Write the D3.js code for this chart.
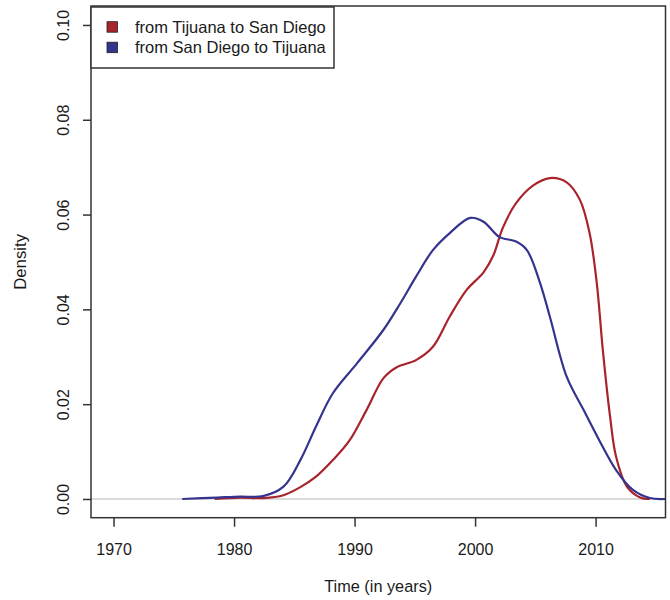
<!DOCTYPE html>
<html>
<head>
<meta charset="utf-8">
<script src="https://cdn.jsdelivr.net/npm/d3@7"></script>
<style>
  html, body { margin: 0; padding: 0; background: #fff; }
  svg { display: block; }
  text { font-family: "Liberation Sans", Arial, sans-serif; fill: #1a1a1a; }
</style>
</head>
<body>
<svg id="chart" width="670" height="600"></svg>
<script>
// ---- data ----
const seriesNames = ["from Tijuana to San Diego", "from San Diego to Tijuana"];
const seriesColors = ["#a8242c", "#34348f"];

// from Tijuana to San Diego : [year, density]
const tijuanaToSD = [
  [1978.4, 0.0], [1980.5, 0.0003], [1982.4, 0.0002], [1984.1, 0.0008], [1985.5, 0.0025],
  [1986.8, 0.0047], [1988.2, 0.0082], [1989.6, 0.0124], [1991.0, 0.0188],
  [1992.4, 0.0255], [1993.5, 0.0278], [1995.1, 0.0293], [1996.5, 0.0321],
  [1997.9, 0.0385], [1999.3, 0.0441], [2000.7, 0.0478], [2001.5, 0.0513],
  [2002.3, 0.0572], [2003.4, 0.0624], [2004.8, 0.0661], [2006.2, 0.0677],
  [2007.6, 0.0668], [2008.7, 0.0631], [2009.5, 0.0561], [2010.1, 0.0455],
  [2010.6, 0.0314], [2011.2, 0.0174], [2011.7, 0.0089], [2012.6, 0.0026],
  [2013.7, 0.0003], [2014.5, 0.0]
];

// from San Diego to Tijuana : [year, density]
const sdToTijuana = [
  [1975.7, 0.0], [1978.6, 0.0003], [1980.5, 0.0005], [1982.4, 0.0006], [1984.1, 0.0026],
  [1985.5, 0.0082], [1986.8, 0.0153], [1988.2, 0.0223], [1990.2, 0.0286],
  [1992.4, 0.0357], [1993.8, 0.0413], [1995.1, 0.0469], [1996.5, 0.0525],
  [1997.9, 0.0561], [1999.6, 0.0593], [2000.7, 0.0585], [2002.0, 0.0553],
  [2003.4, 0.0543], [2004.3, 0.0525], [2005.4, 0.0455], [2006.2, 0.0385],
  [2007.6, 0.0258], [2009.0, 0.0188], [2010.3, 0.0124], [2011.7, 0.0061],
  [2013.1, 0.0019], [2014.5, 0.0002], [2015.8, 0.0]
];

const xTicks = [1970, 1980, 1990, 2000, 2010];
const yTicks = [0.00, 0.02, 0.04, 0.06, 0.08, 0.10];

// ---- layout ----
const svg = d3.select("#chart");
const pLeft = 91, pRight = 665.5, pTop = 6, pBottom = 517.7;

const x = d3.scaleLinear().domain([1968.13, 2015.8]).range([pLeft, pRight]);
const y = d3.scaleLinear().domain([-0.00395, 0.104]).range([pBottom, pTop]);

// zero reference line
svg.append("line")
  .attr("x1", pLeft).attr("x2", pRight)
  .attr("y1", y(0)).attr("y2", y(0))
  .attr("stroke", "#cfcfcf").attr("stroke-width", 1.3);

// clip
svg.append("clipPath").attr("id", "clip")
  .append("rect").attr("x", pLeft).attr("y", pTop)
  .attr("width", pRight - pLeft).attr("height", pBottom - pTop);

const line = d3.line()
  .x(d => x(d[0])).y(d => y(d[1]))
  .curve(d3.curveCatmullRom.alpha(0.5));

const plotG = svg.append("g").attr("clip-path", "url(#clip)");
[tijuanaToSD, sdToTijuana].forEach((s, i) => {
  plotG.append("path")
    .datum(s)
    .attr("d", line)
    .attr("fill", "none")
    .attr("stroke", seriesColors[i])
    .attr("stroke-width", 2.2)
    .attr("stroke-linejoin", "round");
});

// frame
svg.append("rect")
  .attr("x", pLeft).attr("y", pTop)
  .attr("width", pRight - pLeft).attr("height", pBottom - pTop)
  .attr("fill", "none").attr("stroke", "#333").attr("stroke-width", 1.5);

// x axis
const xAxis = d3.axisBottom(x).tickValues(xTicks).tickSize(9).tickPadding(5)
  .tickFormat(d3.format("d"));
const gx = svg.append("g").attr("transform", `translate(0,${pBottom})`).call(xAxis);
gx.select(".domain").remove();
gx.selectAll(".tick line").attr("stroke", "#333").attr("stroke-width", 1.5);
gx.selectAll(".tick text")
  .attr("font-size", 16).attr("fill", "#1a1a1a")
  .attr("font-family", "Liberation Sans, Arial, sans-serif")
  .attr("dy", null).attr("y", 37);

// y axis
const yAxis = d3.axisLeft(y).tickValues(yTicks).tickSize(8)
  .tickFormat(d3.format(".2f"));
const gy = svg.append("g").attr("transform", `translate(${pLeft},0)`).call(yAxis);
gy.select(".domain").remove();
gy.selectAll(".tick line").attr("stroke", "#333").attr("stroke-width", 1.5);
gy.selectAll(".tick text")
  .attr("font-size", 16).attr("fill", "#1a1a1a")
  .attr("font-family", "Liberation Sans, Arial, sans-serif")
  .attr("x", null).attr("dy", null)
  .attr("text-anchor", "middle")
  .attr("transform", "translate(-22,0) rotate(-90)");

// axis titles
svg.append("text")
  .attr("x", (pLeft + pRight) / 2).attr("y", 592)
  .attr("text-anchor", "middle").attr("font-size", 16.3)
  .text("Time (in years)");

svg.append("text")
  .attr("transform", `translate(26,${(pTop + pBottom) / 2}) rotate(-90)`)
  .attr("text-anchor", "middle").attr("font-size", 16.8)
  .text("Density");

// legend
const legend = svg.append("g");
legend.append("rect")
  .attr("x", pLeft).attr("y", 7)
  .attr("width", 334 - pLeft).attr("height", 61)
  .attr("fill", "#fff").attr("stroke", "#333").attr("stroke-width", 1.5);

seriesNames.forEach((name, i) => {
  const cy = 27 + i * 20.5;
  legend.append("rect")
    .attr("x", 107).attr("y", cy - 5.3)
    .attr("width", 10.5).attr("height", 10.5)
    .attr("fill", seriesColors[i]).attr("stroke", "#222").attr("stroke-width", 0.8);
  legend.append("text")
    .attr("x", 135).attr("y", cy + 5.8)
    .attr("font-size", 16.5)
    .text(name);
});
</script>
</body>
</html>
